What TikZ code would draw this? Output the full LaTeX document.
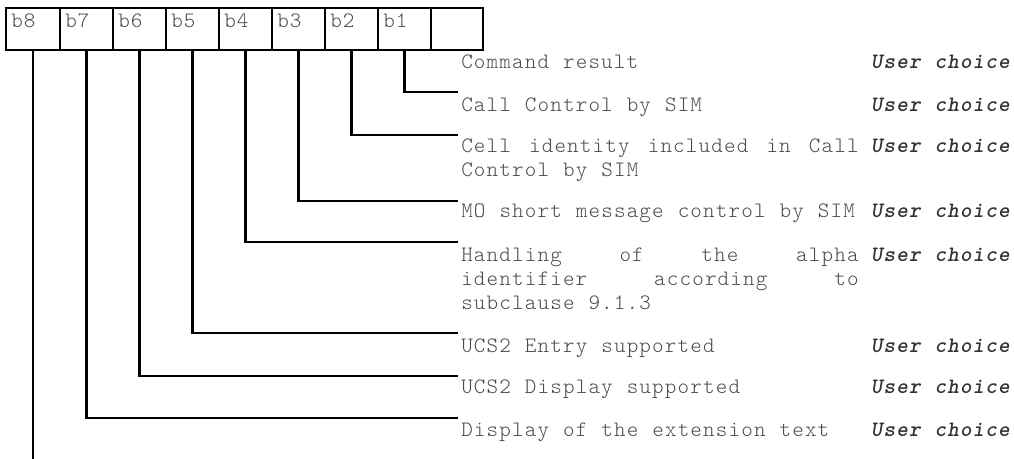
\documentclass[tikz,border=0pt]{standalone}
\usepackage{fontspec}
\newfontfamily\dfont{lmmonolt10-regular.otf}[LetterSpace=5.3,WordSpace=1.1]
\newfontfamily\ufont{lmmonolt10-boldoblique.otf}[LetterSpace=5.3,WordSpace=1.1]
\definecolor{txt}{HTML}{4A4A4A}
\definecolor{uc}{HTML}{333333}
\newcommand{\jline}[1]{\hbox to 298pt{#1}}
\begin{document}
\begin{tikzpicture}[x=0.75pt,y=-0.75pt,
  bitbox/.style={draw, line width=1.0pt, minimum height=31.5pt, anchor=north west, inner sep=0pt, outer sep=0pt},
  bitlbl/.style={anchor=base west, inner sep=0pt, font=\dfont\fontsize{16.5pt}{18pt}\selectfont, text=txt},
  desc/.style={anchor=base west, inner sep=0pt, font=\dfont\fontsize{16.5pt}{18pt}\selectfont, text=txt},
  choice/.style={anchor=base east, inner sep=0pt, font=\ufont\fontsize{16.5pt}{18pt}\selectfont, text=uc},
  conn/.style={line width=1.7pt}]
\useasboundingbox (0,0) rectangle (1014,459);
% bit boxes
\foreach \n/\x/\w/\t in {b8/6/54/b8, b7/60/53/b7, b6/113/53/b6, b5/166/53/b5, b4/219/53/b4, b3/272/53/b3, b2/325/53/b2, b1/378/53/b1}{
  \node[bitbox, minimum width=0.75*\w pt] (\n) at (\x,8) {};
  \node[bitlbl] (l\n) at (\x+5,28) {\t};
}
\node[bitbox, minimum width=39pt] (b0) at (431,8) {};
% end points of the connectors
\coordinate (e1) at (458,92);
\coordinate (e2) at (458,135);
\coordinate (e3) at (458,201);
\coordinate (e4) at (458,242);
\coordinate (e5) at (458,333);
\coordinate (e6) at (458,376);
\coordinate (e7) at (458,418);
\coordinate (e8) at (0,459);
% connectors
\draw[conn] (b1.south) |- (e1);
\draw[conn] (b2.south) |- (e2);
\draw[conn] (b3.south) |- (e3);
\draw[conn] (b4.south) |- (e4);
\draw[conn] (b5.south) |- (e5);
\draw[conn] (b6.south) |- (e6);
\draw[conn] (b7.south) |- (e7);
\draw[conn] (b8.south) -- (b8.south |- e8);
% descriptions
\node[desc] (t1) at (461,69) {Command result};
\node[desc] (t2) at (461,112) {Call Control by SIM};
\node[desc] (t3) at (461,153) {\vtop{\jline{Cell\hfill identity\hfill included\hfill in\hfill Call}\hbox{Control by SIM}}};
\node[desc] (t4) at (461,218) {MO short message control by SIM};
\node[desc] (t5) at (461,262) {\vtop{\jline{Handling\hfill of\hfill the\hfill alpha}\jline{identifier\hfill according\hfill to}\hbox{subclause 9.1.3}}};
\node[desc] (t6) at (461,353) {UCS2 Entry supported};
\node[desc] (t7) at (461,394) {UCS2 Display supported};
\node[desc] (t8) at (461,437) {Display of the extension text};
% choices
\foreach \i/\y in {1/69, 2/112, 3/153, 4/218, 5/262, 6/353, 7/394, 8/437}{
  \node[choice] (c\i) at (1010,\y) {User choice};
}
\end{tikzpicture}
\end{document}
